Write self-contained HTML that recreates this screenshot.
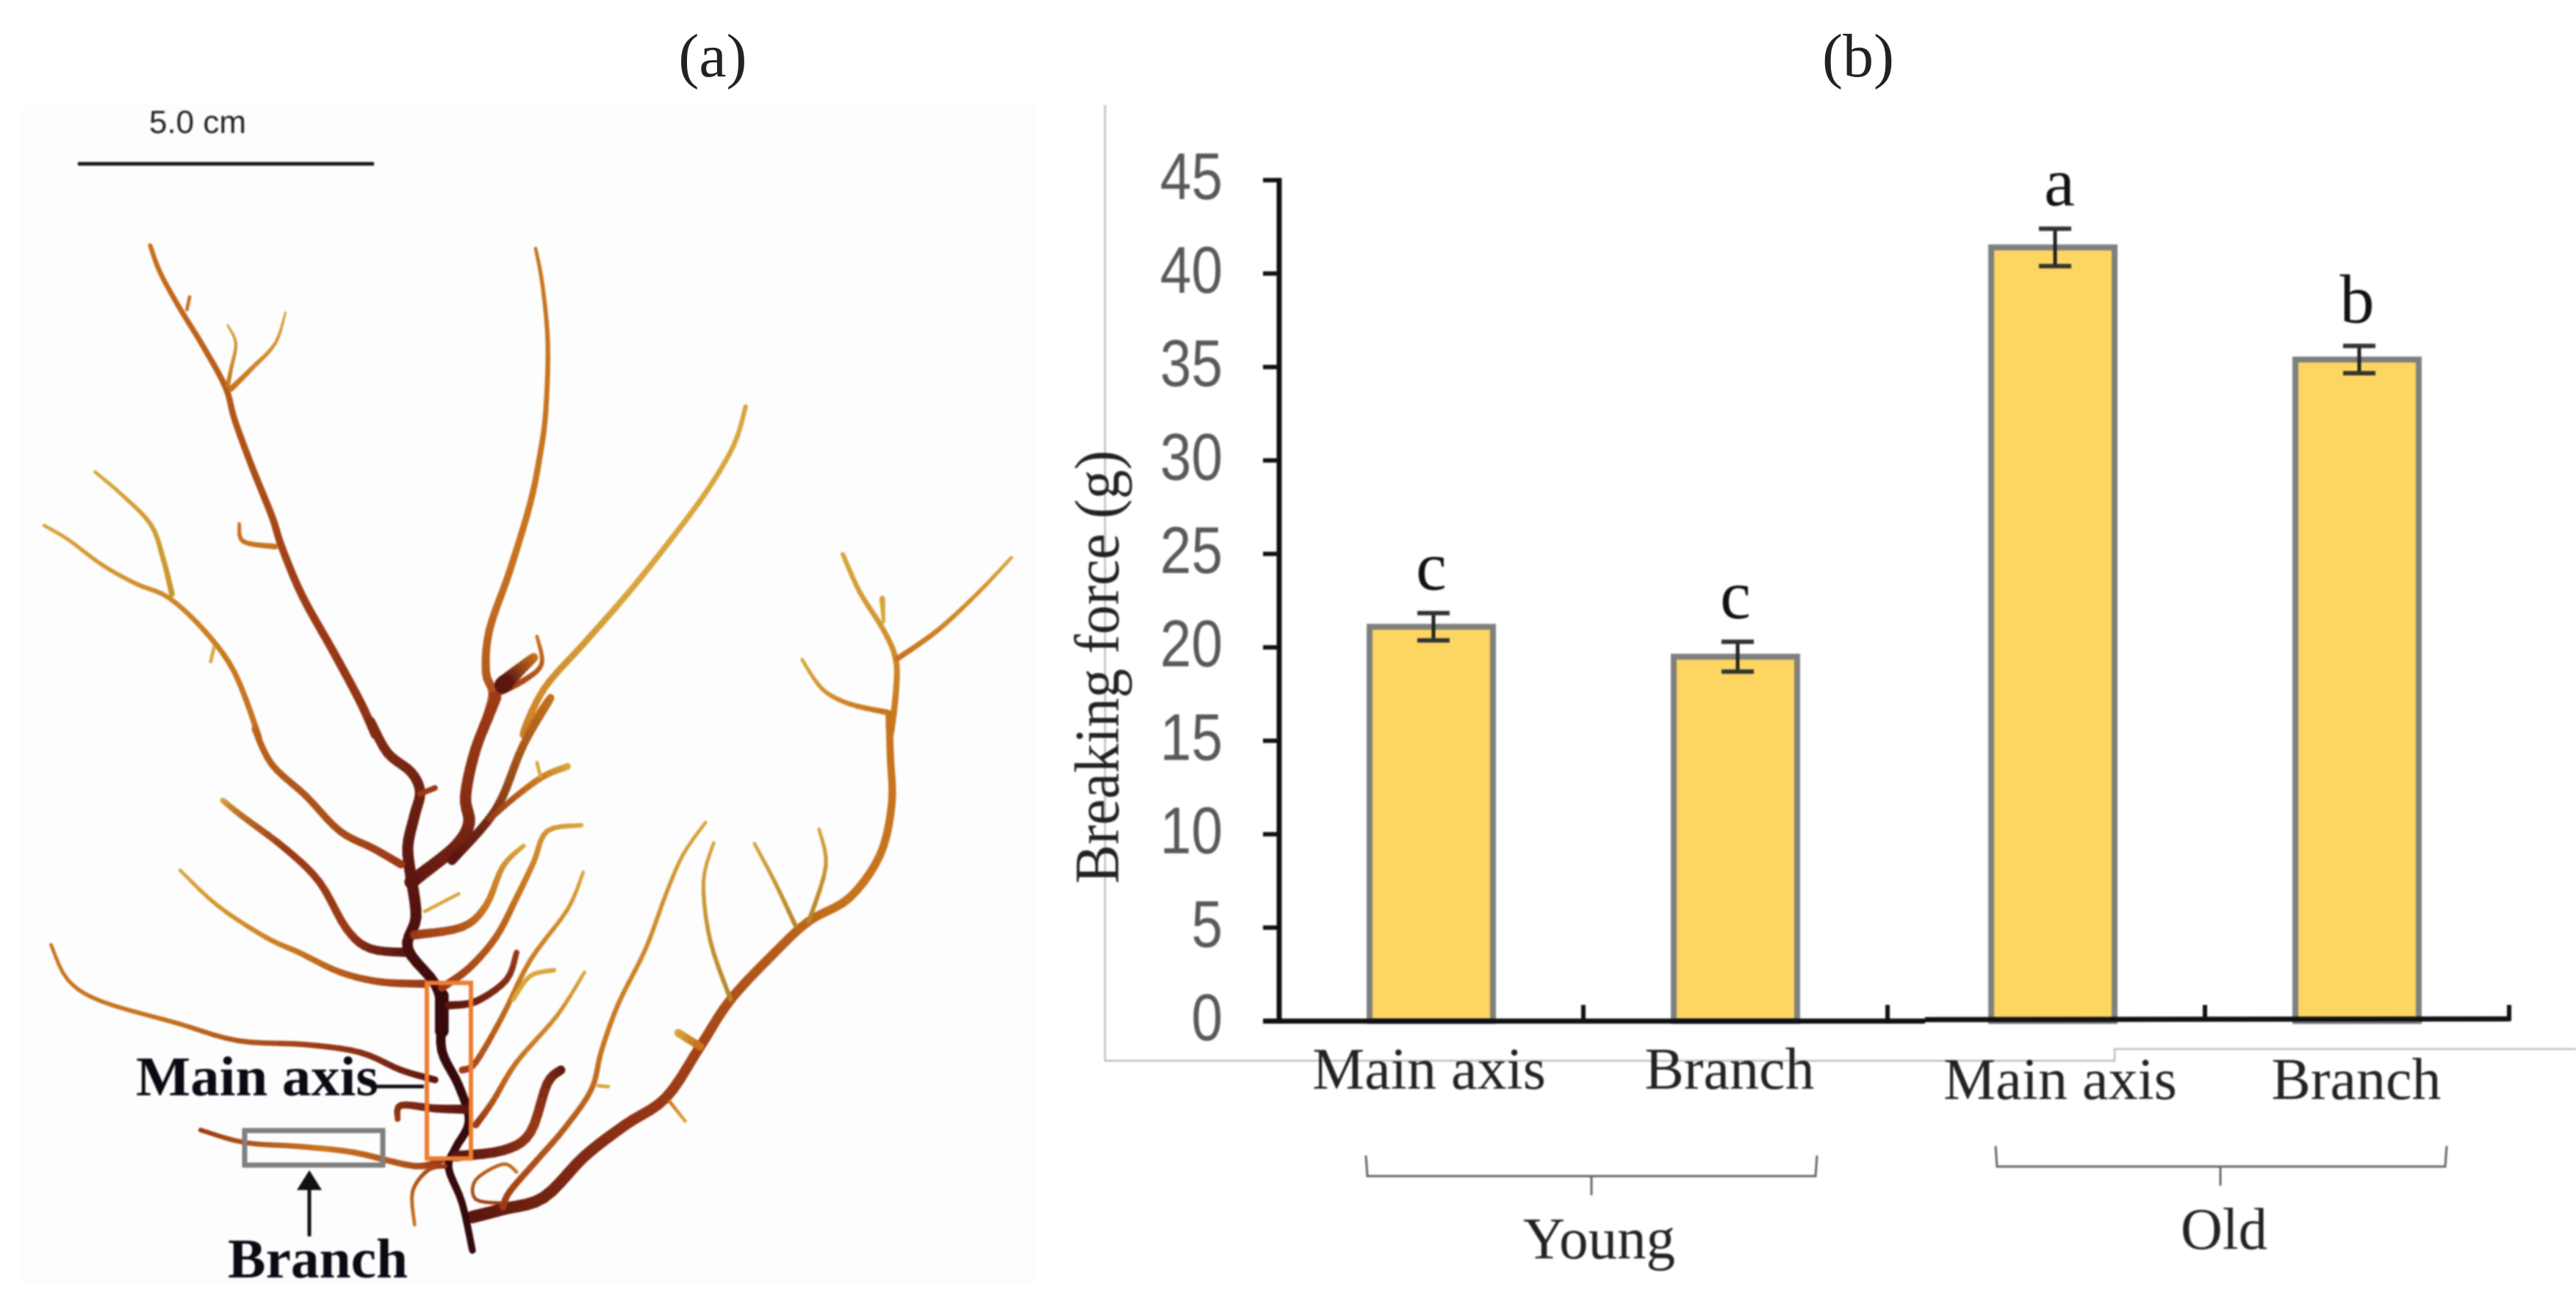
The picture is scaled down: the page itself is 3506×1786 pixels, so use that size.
<!DOCTYPE html>
<html>
<head>
<meta charset="utf-8">
<style>
html,body{margin:0;padding:0;background:#fff;}
svg{display:block;}
text{font-family:"Liberation Serif",serif;}
#chart,#photo{filter:blur(1.1px);}
</style>
</head>
<body>
<svg id="fig" xmlns="http://www.w3.org/2000/svg" width="3506" height="1786" viewBox="0 0 3506 1786">
  <rect x="0" y="0" width="3506" height="1786" fill="#ffffff"/>
  <text x="970" y="104" font-size="84" text-anchor="middle" fill="#222">(a)</text>
  <text x="2529" y="104" font-size="84" text-anchor="middle" fill="#222">(b)</text>

  <g id="photo">
    <rect x="29" y="142" width="1382" height="1606" fill="#fdfdfd"/>
    <g id="weed"></g>
    <line x1="106" y1="223" x2="509" y2="223" stroke="#1a1a1a" stroke-width="5"/>
    <text x="203" y="181" font-size="44" textLength="132" lengthAdjust="spacingAndGlyphs" fill="#222" style="font-family:'Liberation Sans',sans-serif">5.0 cm</text>
    <rect x="581" y="1338" width="60" height="239" fill="none" stroke="#ed7d31" stroke-width="6"/>
    <rect x="333" y="1539" width="188" height="47" fill="none" stroke="#7f7f7f" stroke-width="7"/>
    <text x="185" y="1491" font-size="76" font-weight="bold" textLength="330" lengthAdjust="spacingAndGlyphs" fill="#0a0a14">Main axis</text>
    <line x1="513" y1="1479" x2="577" y2="1479" stroke="#111" stroke-width="5"/>
    <text x="310" y="1739" font-size="76" font-weight="bold" textLength="245" lengthAdjust="spacingAndGlyphs" fill="#0a0a14">Branch</text>
    <line x1="421" y1="1683" x2="421" y2="1610" stroke="#111" stroke-width="5"/>
    <polygon points="421,1593 404,1620 438,1620" fill="#111"/>
  </g>

  <g id="chart">
    <polyline points="1504,143 1504,1444 2878,1444 2878,1428 3506,1428" fill="none" stroke="#bdbdbd" stroke-width="2.5"/>
    <g id="bars"></g>
    <g id="axes"></g>
    <g id="labels"></g>
    <text transform="translate(1522,1203) rotate(-90)" font-size="86" textLength="590" lengthAdjust="spacingAndGlyphs" fill="#222">Breaking force (g)</text>
    <polyline points="1859,1573 1861,1601 2471,1601 2473,1573" fill="none" stroke="#666" stroke-width="3"/>
    <line x1="2166" y1="1601" x2="2166" y2="1627" stroke="#666" stroke-width="3"/>
    <polyline points="2716,1560 2718,1588 3328,1588 3330,1560" fill="none" stroke="#666" stroke-width="3"/>
    <line x1="3022" y1="1588" x2="3022" y2="1614" stroke="#666" stroke-width="3"/>
    <text x="2073" y="1713" font-size="80" textLength="207" lengthAdjust="spacingAndGlyphs" fill="#222">Young</text>
    <text x="2968" y="1700" font-size="80" textLength="118" lengthAdjust="spacingAndGlyphs" fill="#222">Old</text>
  </g>
</svg>

<script>
// ---------- chart data ----------
const categories = ["Main axis", "Branch", "Main axis", "Branch"];
const categoryGroup = ["young", "young", "old", "old"];
const breakingForce = [21.1, 19.5, 41.4, 35.4];
const errorValues = [0.73, 0.8, 1.0, 0.73];
const significance = ["c", "c", "a", "b"];
const yTicks = [0, 5, 10, 15, 20, 25, 30, 35, 40, 45];

const NS = "http://www.w3.org/2000/svg";
function mk(tag, attrs, parent) {
  const e = document.createElementNS(NS, tag);
  for (const k in attrs) e.setAttribute(k, attrs[k]);
  parent.appendChild(e);
  return e;
}
function yScale(v) { return 1390 - v * 25.44; }
function xScale(i) { return 1948 + i * 414 + (i >= 2 ? 18 : 0); }
const halfBar = 84, halfBand = 207;

const barsG = document.getElementById("bars");
const axesG = document.getElementById("axes");
const labelsG = document.getElementById("labels");

categories.forEach(function (cat, i) {
  const cx = xScale(i), top = yScale(breakingForce[i]);
  const bar = mk("rect", {x: cx - halfBar, y: top, width: halfBar * 2, height: yScale(0) - top, fill: "#fdd662", stroke: "#7f7f7f", "stroke-width": 8}, barsG);
  
  

  const eHi = yScale(breakingForce[i] + errorValues[i]);
  const eLo = yScale(breakingForce[i] - errorValues[i]);
  const stem = mk("line", {x1: cx + 3, x2: cx + 3, y1: eHi, y2: eLo, stroke: "#222", "stroke-width": 5}, barsG);
  
  
  [eHi, eLo].forEach(function (yy) {
    const cap = mk("line", {x1: cx - 19, x2: cx + 25, y1: yy, y2: yy, stroke: "#333", "stroke-width": 6}, barsG);
    
    
  });

  const sig = mk("text", {x: cx + (i === 2 ? 9 : 0), y: eHi - 32, "font-size": 94, "text-anchor": "middle", fill: "#111"}, labelsG);
  sig.textContent = significance[i];
  
  

  const old = categoryGroup[i] === "old";
  const lab = mk("text", {x: cx + [-3, -8, 10, -1][i], y: old ? 1496 : 1482, "font-size": 80, "text-anchor": "middle", fill: "#222"}, labelsG);
  lab.textContent = cat;
  
  

  const tick = mk("line", {x1: cx + halfBand, x2: cx + halfBand, y1: old ? 1390 : 1392, y2: 1368, stroke: "#111", "stroke-width": 6}, axesG);
  
  
});

yTicks.forEach(function (t) {
  const yy = yScale(t);
  const tk = mk("line", {x1: 1719, x2: 1741, y1: yy, y2: yy, stroke: "#111", "stroke-width": 6}, axesG);
  
  
  const lb = mk("text", {transform: "translate(1664," + (yy + 26) + ") scale(.85,1)", "font-size": 90, "text-anchor": "end", fill: "#595959"}, labelsG);
  lb.style.fontFamily = "'Liberation Sans',sans-serif";
  lb.textContent = t;
  
  
});

const yAxisLine = mk("line", {x1: 1741, x2: 1741, y1: yScale(45) - 3, y2: yScale(0) + 3, stroke: "#111", "stroke-width": 7}, axesG);


const xAxisLeft = mk("line", {x1: 1719, x2: 2620, y1: yScale(0), y2: yScale(0), stroke: "#111", "stroke-width": 7}, axesG);


const xAxisRight = mk("line", {x1: 2620, x2: 3416, y1: yScale(0) - 2, y2: yScale(0) - 3, stroke: "#111", "stroke-width": 7}, axesG);



// ---------- seaweed illustration (traced shapes, not chart data) ----------
const G = "#d8a63c", O = "#c8741f", R = "#9c3a16", D = "#5c1610", K = "#36090a";
const traces = [
 {a:[[221,408],[235,470],[262,550],[300,650],[332,745],[345,820],[370,930],[400,1050],[415,1125],[445,1240],[490,1370],[530,1490],[552,1568]],b:[[545,60],[570,140],[605,190],[618,240],[610,300],[600,380],[605,460]],w:[4,10],c:[O,R,D]},
 {a:[[65,1072],[100,1105],[150,1165],[200,1210],[248,1243],[300,1320],[345,1420],[380,1568]],b:[[375,80],[400,170],[450,250],[500,340],[550,385],[590,425]],w:[3,7],c:[G,O,R]},
 {a:[[140,945],[180,1000],[222,1070],[240,1150],[253,1235]],w:[3,5],c:[G,"#c9962e"]},
 {a:[[335,597],[347,640],[340,700],[335,740]],w:[2,4],c:[G,O]},
 {a:[[420,567],[405,640],[370,700],[340,748]],w:[2,5],c:[G,O]},
 {a:[[279,530],[275,560]],w:[3,3],c:[O,O]},
 {a:[[352,1068],[358,1110],[405,1122]],w:[3,5],c:[O,O]},
 {a:[[310,1395],[315,1360]],w:[3,3],c:[G,G]},
 {a:[[788,415],[798,500],[806,640],[803,800],[795,900],[780,1020],[750,1180],[720,1320],[715,1420],[725,1475],[708,1568]],b:[[730,0],[700,130],[685,250],[690,320],[670,380],[620,450],[605,470]],w:[3,12],c:[O,O,R,D]},
 {a:[[1097,790],[1080,880],[1040,990],[980,1120],[920,1240],[860,1350],[800,1460],[770,1568]],b:[[810,0],[770,120],[740,250],[715,320],[665,415]],w:[4,8],c:[G,G,O,D]},
 {a:[[790,1335],[797,1400],[770,1440],[725,1475]],w:[3,6],c:[O,R]},
 {a:[[785,1385],[760,1420],[740,1450]],w:[8,15],c:[O,D]},
 {b:[[835,175],[800,200],[760,250],[720,310]],w:[6,5],c:[G,O,R]},
 {b:[[790,165],[795,200]],w:[3,3],c:[G,G]},
 {a:[[1240,1140],[1265,1230],[1300,1320],[1318,1390],[1318,1470],[1310,1568]],b:[[1308,40],[1310,150],[1312,270],[1295,400],[1250,510],[1190,570],[1140,650],[1075,770],[1030,890],[980,1020],[920,1090],[860,1170],[800,1275],[740,1305],[695,1325]],w:[4,11],c:[G,O,O,R,D]},
 {a:[[1488,1148],[1440,1230],[1380,1320],[1320,1388]],w:[3,5],c:[G,O]},
 {a:[[1180,1390],[1210,1460],[1250,1495],[1305,1515]],w:[3,5],c:[G,O]},
 {a:[[1298,1245],[1300,1300]],w:[5,3],c:[G,G]},
 {b:[[1050,370],[1035,470],[1045,620],[1075,770]],w:[3,4],c:[G,"#b9862a"]},
 {b:[[1110,372],[1140,470],[1170,580]],w:[3,4],c:[G,"#b9862a"]},
 {b:[[1205,335],[1215,430],[1190,570]],w:[3,4],c:[G,"#b9862a"]},
 {b:[[1038,318],[1005,400],[980,500],[950,640],[910,780],[885,900],[870,1000],[830,1100],[790,1180],[750,1260],[740,1300]],w:[3,6],c:[G,O,R]},
 {b:[[998,855],[1030,890]],w:[7,7],c:[G,O]},
 {b:[[985,1030],[1008,1080]],w:[3,3],c:[O,G]},
 {b:[[880,990],[895,992]],w:[3,3],c:[G,G]},
 {b:[[328,262],[355,300],[420,385],[470,470],[510,590],[545,640],[600,650]],w:[5,8],c:[G,R,R,D]},
 {b:[[265,440],[320,530],[390,610],[440,650],[500,700],[560,725],[625,730]],w:[3,7],c:[G,O,R]},
 {b:[[75,630],[100,720],[150,775],[260,830],[350,875],[450,885],[530,905],[590,950],[640,975]],w:[3,6],c:[O,O,R,D]},
 {b:[[605,460],[612,560],[600,640],[640,730],[650,800],[650,900],[675,990],[690,1080],[670,1150],[660,1200],[680,1290],[695,1410]],w:[10,6],c:[D,K,K,K]},
 {b:[[650,760],[650,850]],w:[12,12],c:[K,K]},
 {b:[[610,605],[680,585],[715,530],[740,430],[770,378]],w:[8,4],c:[R,O,G]},
 {b:[[855,325],[805,340],[785,420],[760,510],[730,610],[690,690],[650,740]],w:[4,7],c:[G,O,R]},
 {b:[[858,445],[835,540],[780,670],[740,810],[700,930],[680,950]],w:[3,6],c:[G,O,R]},
 {b:[[860,700],[820,810],[760,930],[725,1030],[700,1090]],w:[3,6],c:[G,O,R]},
 {b:[[760,650],[745,720],[700,775],[660,785]],w:[5,7],c:[R,D]},
 {b:[[825,950],[805,985],[780,1110],[740,1155],[670,1170]],w:[8,9],c:[D,R,D]},
 {b:[[295,1103],[360,1135],[440,1145],[520,1160],[610,1195],[650,1180]],w:[4,6],c:[R,O,R]},
 {b:[[585,1075],[590,1040],[640,1048],[685,1050]],w:[5,8],c:[R,D]},
 {b:[[610,1345],[607,1260],[630,1205],[655,1195]],w:[3,4],c:[O,R]},
 {b:[[740,1290],[700,1280],[700,1230],[740,1190],[760,1210]],w:[3,3],c:[R,O]},
 {b:[[675,500],[625,545]],w:[3,3],c:[G,G]},
 {b:[[815,695],[780,710],[755,770]],w:[4,4],c:[G,G]},
 {b:[[640,230],[618,245]],w:[5,5],c:[R,R]}
];
const widthBoost = 1.55;
function toA(p) { return [p[0] / 1.081, p[1] / 1.742 + 100]; }
function toB(p) { return [p[0] / 1.081, p[1] / 1.875 + 950]; }
function hex(c) { return [1, 3, 5].map(function (k) { return parseInt(c.substr(k, 2), 16); }); }
function colorAt(list, t) {
  const s = t * (list.length - 1), i = Math.min(Math.floor(s), list.length - 2), f = s - i;
  const a = hex(list[i]), b = hex(list[i + 1]);
  return "rgb(" + a.map(function (v, k) { return Math.round(v + (b[k] - v) * f); }).join(",") + ")";
}
const weed = document.getElementById("weed");
traces.forEach(function (t) {
  const pts = (t.a || []).map(toA).concat((t.b || []).map(toB));
  const g = mk("g", {fill: "none", "stroke-linecap": "round"}, weed);
  
  
  const smooth = [];
  for (let i = 0; i < pts.length - 1; i++) {
    const p0 = pts[Math.max(i - 1, 0)], p1 = pts[i], p2 = pts[i + 1], p3 = pts[Math.min(i + 2, pts.length - 1)];
    for (let s = 0; s < 5; s++) {
      const u = s / 5, u2 = u * u, u3 = u2 * u;
      smooth.push([0, 1].map(function (k) {
        return 0.5 * (2 * p1[k] + (p2[k] - p0[k]) * u + (2 * p0[k] - 5 * p1[k] + 4 * p2[k] - p3[k]) * u2 + (3 * p1[k] - p0[k] - 3 * p2[k] + p3[k]) * u3);
      }));
    }
  }
  smooth.push(pts[pts.length - 1]);
  for (let i = 0; i < smooth.length - 1; i++) {
    const f = i / (smooth.length - 2 || 1);
    mk("line", {x1: smooth[i][0], y1: smooth[i][1], x2: smooth[i + 1][0], y2: smooth[i + 1][1], stroke: colorAt(t.c, f), "stroke-width": widthBoost * (t.w[0] + (t.w[1] - t.w[0]) * f)}, g);
  }
});
</script>
</body>
</html>
